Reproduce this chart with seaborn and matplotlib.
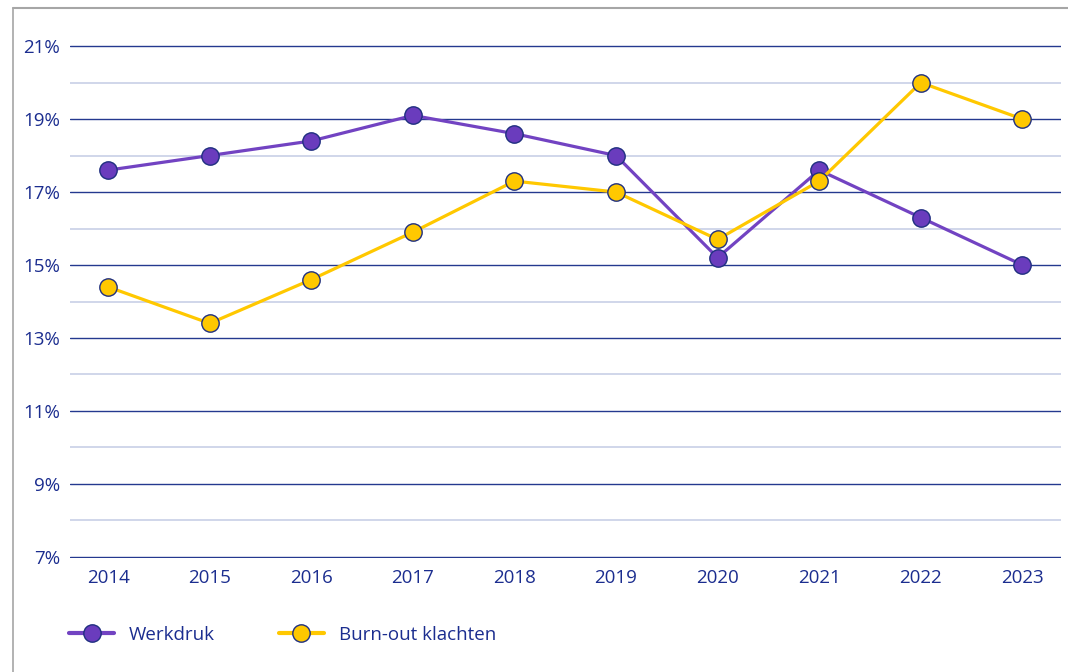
import pandas as pd
import matplotlib.pyplot as plt
import seaborn as sns
from matplotlib.lines import Line2D

# data (percent)
years = ["2014", "2015", "2016", "2017", "2018", "2019", "2020", "2021", "2022", "2023"]
werkdruk = [17.6, 18.0, 18.4, 19.1, 18.6, 18.0, 15.2, 17.6, 16.3, 15.0]
burnout = [14.4, 13.4, 14.6, 15.9, 17.3, 17.0, 15.7, 17.3, 20.0, 19.0]
series_names = ["Werkdruk", "Burn-out klachten"]

navy = "#1b2d8f"
purple = "#7243c2"
yellow = "#ffc800"

sns.set_theme(style="white")
plt.rcParams["font.family"] = ["Open Sans", "DejaVu Sans"]

df = pd.DataFrame({
    "pos": list(range(len(years))) * 2,
    "value": werkdruk + burnout,
    "reeks": [series_names[0]] * len(years) + [series_names[1]] * len(years),
})

fig = plt.figure(figsize=(10.68, 6.72), dpi=100)
ax = fig.add_axes([70 / 1068, 1 - 558 / 672, (1061 - 70) / 1068, (558 - 45) / 672])

# gridlines: odd percentages dark, even ones light
for v in range(7, 22):
    if v % 2 == 1:
        ax.axhline(v, color="#24398f", lw=1.0, zorder=1)
    else:
        ax.axhline(v, color="#c8d0e6", lw=1.2, zorder=1)

sns.lineplot(data=df, x="pos", y="value", hue="reeks",
             palette=[purple, yellow], linewidth=2.3, marker="o",
             markersize=12.5, markeredgecolor="#1f2f80", markeredgewidth=1.0,
             legend=False, ax=ax, zorder=3)
# marker faces slightly darker purple than line
ax.lines[-2].set_markerfacecolor("#6a3cbd")

ax.set_xlim(-0.375, 9.38)
ax.set_ylim(6.97, 21.03)
ax.set_xticks(range(len(years)))
ax.set_xticklabels(years)
ax.set_yticks(range(7, 22, 2))
ax.set_yticklabels([f"{v}%" for v in range(7, 22, 2)])
ax.tick_params(axis="both", colors=navy, labelsize=13.5, length=0)
ax.tick_params(axis="x", pad=8)
ax.tick_params(axis="y", pad=7)
ax.set_xlabel("")
ax.set_ylabel("")
for s in ax.spines.values():
    s.set_visible(False)

handles = [
    Line2D([], [], color=purple, lw=3, marker="o", markersize=12.5,
           markerfacecolor="#6a3cbd", markeredgecolor="#1f2f80"),
    Line2D([], [], color=yellow, lw=3, marker="o", markersize=12.5,
           markerfacecolor=yellow, markeredgecolor="#1f2f80"),
]
fig.legend(handles, series_names, loc="center left", bbox_to_anchor=(69 / 1068, 1 - 635 / 672),
           ncol=2, frameon=False, fontsize=13.5, labelcolor=navy,
           handlelength=2.4, columnspacing=3.4, handletextpad=0.8, borderpad=0, borderaxespad=0)

# partial outer frame (top and left) as in the reference
fig.add_artist(Line2D([13 / 1068, 1], [1 - 8 / 672, 1 - 8 / 672], color="#a6a6a6", lw=1.5))
fig.add_artist(Line2D([13 / 1068, 13 / 1068], [0, 1 - 8 / 672], color="#a6a6a6", lw=1.2))

fig.savefig("out.png", dpi=100, facecolor="white")
